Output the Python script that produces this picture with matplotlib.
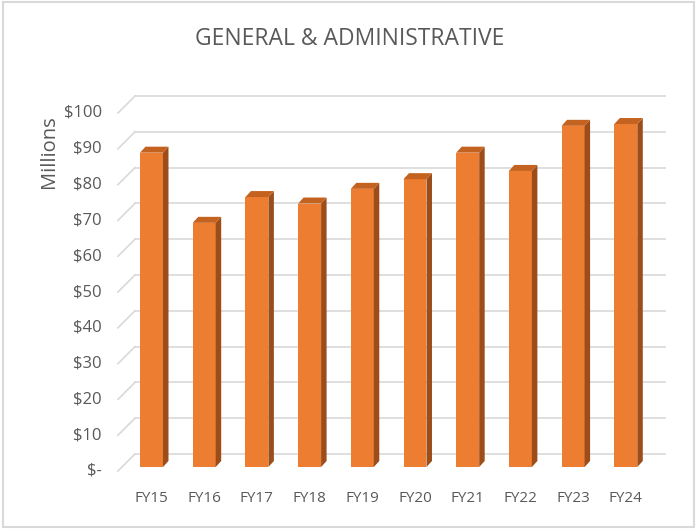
import matplotlib.pyplot as plt
from matplotlib.patches import Polygon, Rectangle

plt.rcParams['font.family'] = ['Open Sans', 'DejaVu Sans']

years = ["FY15", "FY16", "FY17", "FY18", "FY19", "FY20", "FY21", "FY22", "FY23", "FY24"]
ga_millions = [87.8, 68.2, 75.4, 73.6, 77.7, 80.4, 87.8, 82.7, 95.3, 95.8]
ticks = [0, 10, 20, 30, 40, 50, 60, 70, 80, 90, 100]

FRONT = "#ED7D31"
SIDE = "#9C4D1A"
TOP = "#C4621F"
GRID = "#D9D9D9"
TXT = "#595959"

W, H = 696, 529
fig = plt.figure(figsize=(W / 100, H / 100), dpi=100)
ax = fig.add_axes([0, 0, 1, 1])
# 52.7 px per category, 3.58 px per $1M; bar front bottom at y=467px
ax.set_xlim(-151.5 / 52.7, (W - 151.5) / 52.7)
ax.set_ylim((467 - H) / 3.58, 467 / 3.58)
ax.axis("off")

# wall geometry (data units)
wall_dx, wall_dy = 17 / 52.7, 17 / 3.58
front_x = -0.636
front_dy = -4 / 3.58
back_right = 9.744

for t in ticks:
    y0 = t + front_dy
    ax.plot([front_x, front_x + wall_dx], [y0, y0 + wall_dy], color=GRID, lw=1.2, zorder=1)
    ax.plot([front_x + wall_dx, back_right], [y0 + wall_dy, y0 + wall_dy], color=GRID, lw=1.2, zorder=1)
    label = "$-" if t == 0 else f"${t}"
    ax.text(-0.94, y0, label, ha="right", va="center", fontsize=12, color=TXT)

bw = 0.218
bdx, bdy = 5.5 / 52.7, 6 / 3.58
for i, v in enumerate(ga_millions):
    ax.add_patch(Rectangle((i - bw, 0), 2 * bw, v, facecolor=FRONT, edgecolor="none", zorder=3))
    side = [(i + bw, 0), (i + bw + bdx, bdy), (i + bw + bdx, v + bdy), (i + bw, v)]
    ax.add_patch(Polygon(side, closed=True, facecolor=SIDE, edgecolor="none", zorder=3))
    top = [(i - bw, v), (i - bw + bdx, v + bdy), (i + bw + bdx, v + bdy), (i + bw, v)]
    ax.add_patch(Polygon(top, closed=True, facecolor=TOP, edgecolor="none", zorder=3))
    ax.text(i, -8.7, years[i], ha="center", va="center", fontsize=11, color=TXT)

fig.text(350 / W, 1 - 39 / H, "GENERAL & ADMINISTRATIVE", ha="center", va="center",
         fontsize=16.5, color=TXT)
fig.text(49 / W, 1 - 152 / H, "Millions", ha="center", va="center", rotation=90,
         fontsize=14.5, color=TXT)

fig.add_artist(Rectangle((3 / W, 2 / H), 691 / W, 525 / H, transform=fig.transFigure,
                         facecolor="none", edgecolor=GRID, lw=1.5))

fig.savefig("out.png", dpi=100)
